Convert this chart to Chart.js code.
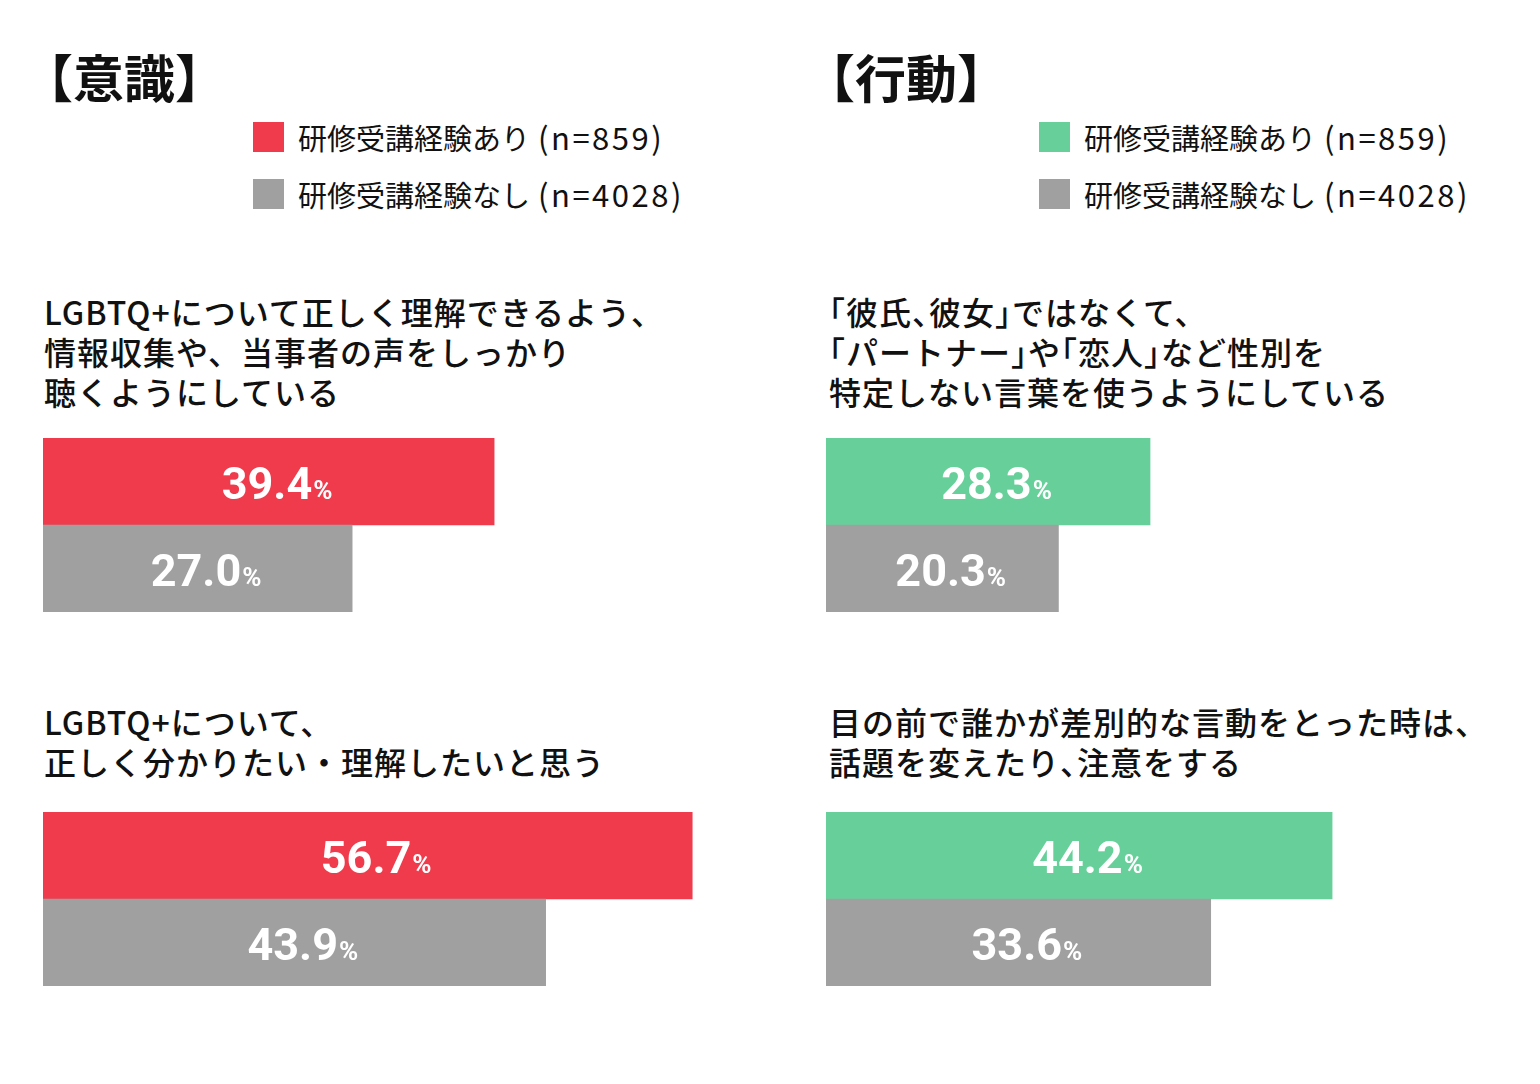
<!DOCTYPE html>
<html>
<head>
<meta charset="utf-8">
<script src="https://cdn.jsdelivr.net/npm/chart.js@4/dist/chart.umd.min.js"></script>
<style>
  html, body { margin: 0; padding: 0; background: #fff; }
  body { width: 1540px; height: 1084px; position: relative; overflow: hidden;
         font-family: "Noto Sans CJK JP", "Noto Sans", sans-serif; color: #111; }
  .title { position: absolute; font-size: 51px; font-weight: 700; line-height: 1; }
  .leg { position: absolute; font-size: 29px; line-height: 30px; white-space: nowrap; }
  .leg span.sw { display: inline-block; width: 31px; height: 30px; vertical-align: top; margin-right: 14px; }
  .leg span.n { font-size: 31px; letter-spacing: 2.5px; margin-left: 8px; }
  .q { position: absolute; font-size: 32px; font-weight: 500; line-height: 40px; letter-spacing: 1px; white-space: nowrap; }
  .q .h { font-feature-settings: "halt"; }
  canvas { position: absolute; }
</style>
</head>
<body>
<div class="title" style="left:22px; top:51px;">【意識】</div>
<div class="title" style="left:804px; top:51px;">【行動】</div>

<div class="leg" id="legL" style="left:253px; top:122px;"></div>
<div class="leg" id="legR" style="left:1039px; top:122px;"></div>

<div class="q" id="q0" style="left:44px; top:291px;"></div>
<div class="q" id="q1" style="left:44px; top:701px;"></div>
<div class="q" id="q2" style="left:829px; top:291px;"></div>
<div class="q" id="q3" style="left:829px; top:701px;"></div>

<canvas id="c0" width="700" height="174" style="left:43px; top:438px;"></canvas>
<canvas id="c1" width="700" height="174" style="left:43px; top:812px;"></canvas>
<canvas id="c2" width="700" height="174" style="left:826px; top:438px;"></canvas>
<canvas id="c3" width="700" height="174" style="left:826px; top:812px;"></canvas>

<script>
// --- data ---
const groupNames = ['研修受講経験あり', '研修受講経験なし'];
const groupN = ['(n=859)', '(n=4028)'];

const questions = [
  ['LGBTQ+について正しく理解できるよう、', '情報収集や、当事者の声をしっかり', '聴くようにしている'],
  ['LGBTQ+について、', '正しく分かりたい・理解したいと思う'],
  ['「彼氏、彼女」ではなくて、', '「パートナー」や「恋人」など性別を', '特定しない言葉を使うようにしている'],
  ['目の前で誰かが差別的な言動をとった時は、', '話題を変えたり、注意をする']
];

// values per question: [あり, なし]
const q0Values = [39.4, 27.0];
const q1Values = [56.7, 43.9];
const q2Values = [28.3, 20.3];
const q3Values = [44.2, 33.6];

const RED = '#EF3B4C';
const GREEN = '#67D09A';
const GREY = '#A0A0A0';

// --- legends + question text ---
function legendHtml(color) {
  return '<div style="margin-bottom:27px"><span class="sw" style="background:' + color + '"></span>' +
           groupNames[0] + '<span class="n">' + groupN[0] + '</span></div>' +
         '<div><span class="sw" style="background:' + GREY + '"></span>' +
           groupNames[1] + '<span class="n">' + groupN[1] + '</span></div>';
}
document.getElementById('legL').innerHTML = legendHtml(RED);
document.getElementById('legR').innerHTML = legendHtml(GREEN);

questions.forEach((lines, i) => {
  let html = lines.join('<br>');
  // right column uses half-width brackets / commas
  if (i >= 2) html = html.replace(/([「」]|、(?!<br>|$))/g, '<span class="h">$1</span>');
  document.getElementById('q' + i).innerHTML = html;
});

// --- value labels inside bars ---
const barLabels = {
  id: 'barLabels',
  afterDatasetsDraw(chart) {
    const ctx = chart.ctx;
    const meta = chart.getDatasetMeta(0);
    meta.data.forEach((bar, i) => {
      const v = chart.data.datasets[0].data[i].toFixed(1);
      ctx.save();
      ctx.fillStyle = '#fff';
      ctx.textBaseline = 'alphabetic';
      const bigFont = '700 45px Roboto, "Noto Sans", sans-serif';
      const smallFont = '700 26px Roboto, "Noto Sans", sans-serif';
      ctx.font = bigFont;
      const w1 = ctx.measureText(v).width;
      ctx.font = smallFont;
      const w2 = ctx.measureText('%').width;
      const cx = (bar.base + bar.x) / 2 + 8;
      const x0 = cx - (w1 + w2) / 2;
      const yb = bar.y + 17;
      ctx.font = bigFont;
      ctx.fillText(v, x0, yb);
      ctx.font = smallFont;
      ctx.fillText('%', x0 + w1 + 1, yb);
      ctx.restore();
    });
  }
};

// 11.45 px per percent, canvas is 700 px wide
const xMax = 700 / 11.45;

function makeChart(id, values, color) {
  return new Chart(document.getElementById(id), {
    type: 'bar',
    data: {
      labels: groupNames,
      datasets: [{
        data: values,
        backgroundColor: [color, GREY],
        borderWidth: 0,
        barPercentage: 1,
        categoryPercentage: 1
      }]
    },
    options: {
      indexAxis: 'y',
      responsive: false,
      animation: false,
      layout: { padding: 0 },
      plugins: { legend: { display: false }, tooltip: { enabled: false } },
      scales: {
        x: { display: false, min: 0, max: xMax },
        y: { display: false }
      }
    },
    plugins: [barLabels]
  });
}

makeChart('c0', q0Values, RED);
makeChart('c1', q1Values, RED);
makeChart('c2', q2Values, GREEN);
makeChart('c3', q3Values, GREEN);
</script>
</body>
</html>
